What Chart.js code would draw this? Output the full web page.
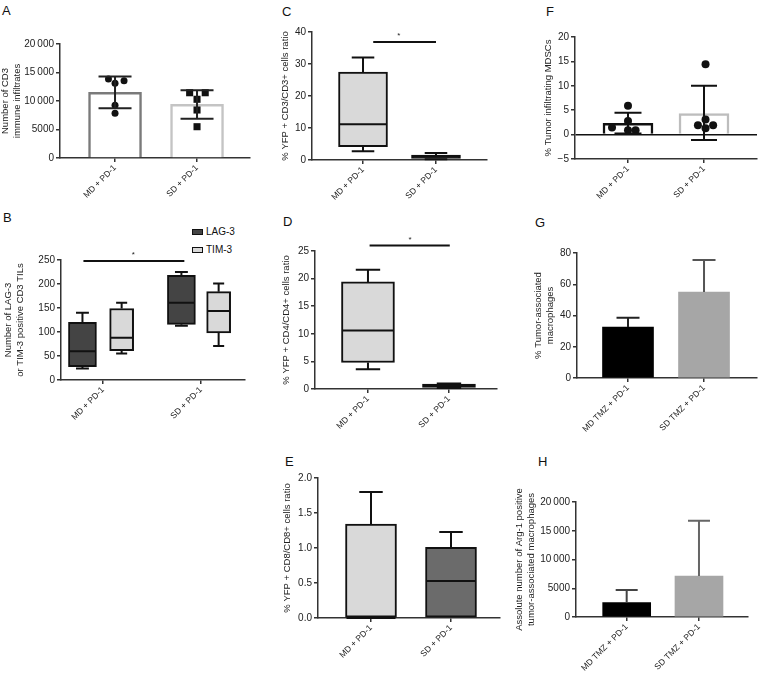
<!DOCTYPE html>
<html>
<head>
<meta charset="utf-8">
<script src="https://cdn.jsdelivr.net/npm/chart.js@4.4.0/dist/chart.umd.min.js"></script>
<style>
  body { margin: 0; background: #fff; width: 760px; height: 673px; position: relative; overflow: hidden;
         font-family: "Liberation Sans", Arial, Helvetica, sans-serif; color: #111; }
  .letter { position: absolute; font-size: 13px; line-height: 13px; }
  .leg { position: absolute; font-size: 10px; line-height: 10px; display: flex; align-items: center; }
  .leg i { display: inline-block; width: 9px; height: 4px; border: 1px solid #111; margin-right: 3px; }
</style>
</head>
<body>
<div class="letter" style="left:2px;top:4px">A</div>
<div class="letter" style="left:3px;top:211px">B</div>
<div class="letter" style="left:282px;top:5px">C</div>
<div class="letter" style="left:283px;top:215px">D</div>
<div class="letter" style="left:285px;top:455px">E</div>
<div class="letter" style="left:546px;top:5px">F</div>
<div class="letter" style="left:535px;top:216px">G</div>
<div class="letter" style="left:538px;top:455px">H</div>
<div class="leg" style="left:192px;top:227px"><i style="background:#444"></i>LAG-3</div>
<div class="leg" style="left:192px;top:245px"><i style="background:#d9d9d9"></i>TIM-3</div>
<script>
// ---- data ----
const groups = ['MD + PD-1', 'SD + PD-1'];
const groupsTmz = ['MD TMZ + PD-1', 'SD TMZ + PD-1'];

// A: mean, sd and individual mice
const aMean = [11500, 9400];
const aSd = [2780, 2500];
const aPtsMD = [[-0.08, 13860], [0.11, 13560], [0, 13100], [0, 9240], [0, 7840]];
const aPtsSD = [[-0.09, 11450], [0.1, 11450], [0, 10300], [0, 8420], [0, 5490]];

// box stats: min, q1, median, q3, max
const bLagMD = [24, 28, 60, 120, 140];
const bLagSD = [113, 116, 161, 218, 225];
const bTimMD = [55, 61, 88, 149, 161];
const bTimSD = [71, 98, 144, 184, 201];

const cMD = [2.7, 4.2, 11.2, 27.5, 32];
const cSD = [0.2, 0.5, 1.0, 1.5, 2.2];

const dMD = [3.6, 4.8, 10.6, 19.4, 21.6];
const dSD = [0.2, 0.3, 0.6, 0.9, 1.0];

const eMD = [0, 0, 0, 1.34, 1.8];
const eSD = [0, 0, 0.53, 1.01, 1.23];

// F: mean, error range, individual mice
const fMean = [2.3, 4.3];
const fErrLo = [0.2, -1.1];
const fErrHi = [4.5, 10.0];
const fPtsMD = [[0, 5.9], [0, 2.8], [-0.21, 1.45], [0, 0.9], [0.1, 0.9]];
const fPtsSD = [[0.02, 14.4], [0.02, 3.1], [-0.08, 1.9], [0.02, 1.3], [0.12, 1.9]];

const gMean = [32.6, 55];
const gErrHi = [38.6, 75.5];

const hMean = [2490, 7130];
const hErrHi = [4700, 16750];

// ---- helpers ----
const AXIS = '#333';
Chart.defaults.font.family = '"Liberation Sans", Arial, Helvetica, sans-serif';
Chart.defaults.color = '#222';
Chart.defaults.animation = false;

function makeCanvas(a) {
  const left = a.l - a.yW, top = a.t - a.pt;
  const w = a.r - left + a.pr, h = a.b - top + a.xH;
  const div = document.createElement('div');
  div.style.cssText = `position:absolute;left:${left}px;top:${top}px;width:${w}px;height:${h}px`;
  const cv = document.createElement('canvas');
  cv.width = w; cv.height = h;
  cv.style.width = w + 'px'; cv.style.height = h + 'px';
  div.appendChild(cv);
  document.body.appendChild(div);
  return cv;
}

function fmt(v) {
  if (v < 0) return '\u2212' + Math.abs(v);
  if (v >= 10000) return String(v).replace(/(\d+)(\d{3})$/, '$1\u2009$2');
  return String(v);
}

function xScale(a, min, max, labels) {
  return {
    type: 'linear', min, max, bounds: 'data', offset: false,
    afterBuildTicks: s => { s.ticks = [{ value: 0 }, { value: 1 }]; },
    afterFit: s => { s.height = a.xH; },
    ticks: { callback: v => labels[v], minRotation: 45, maxRotation: 45, autoSkip: false,
             font: { size: 8.5 }, padding: 1 },
    grid: { offset: false, drawOnChartArea: false, tickLength: 4, color: AXIS, lineWidth: 1.5 },
    border: { color: AXIS, width: 1.5 }
  };
}

function yScale(a, min, max, step, title, extra) {
  return Object.assign({
    type: 'linear', min, max, bounds: 'data',
    afterFit: s => { s.width = a.yW; },
    ticks: { stepSize: step, callback: v => fmt(v), font: { size: 10 }, padding: 2 },
    grid: { drawOnChartArea: false, tickLength: 4, color: AXIS, lineWidth: 1.5 },
    border: { color: AXIS, width: 1.5 },
    title: { display: true, text: title, font: { size: 9.5 }, padding: { top: 0, bottom: 2 } }
  }, extra || {});
}

// whiskers, medians, error bars and significance lines on top of the library's bars
function overlay(spec) {
  return {
    id: 'overlay',
    afterDatasetsDraw(chart) {
      const { ctx, scales: { x, y } } = chart;
      ctx.save();
      ctx.lineWidth = 2;
      (spec.boxes || []).forEach(b => {
        const cx = x.getPixelForValue(b.x);
        const [mn, q1, md, q3, mx] = b.s.map(v => y.getPixelForValue(v));
        const hw = b.w / 2 - 1, cw = b.w * 0.23;
        ctx.strokeStyle = '#111';
        ctx.beginPath();
        if (mx < q3 - 0.5) { ctx.moveTo(cx, q3); ctx.lineTo(cx, mx); ctx.moveTo(cx - cw, mx); ctx.lineTo(cx + cw, mx); }
        if (mn > q1 + 0.5) { ctx.moveTo(cx, q1); ctx.lineTo(cx, mn); ctx.moveTo(cx - cw, mn); ctx.lineTo(cx + cw, mn); }
        ctx.moveTo(cx - hw, md); ctx.lineTo(cx + hw, md);
        ctx.stroke();
      });
      (spec.errors || []).forEach(e => {
        const cx = x.getPixelForValue(e.x);
        const hi = y.getPixelForValue(e.hi);
        const lo = y.getPixelForValue(e.lo === null ? e.y : e.lo);
        ctx.strokeStyle = e.color;
        ctx.beginPath();
        ctx.moveTo(cx, lo); ctx.lineTo(cx, hi);
        ctx.moveTo(cx - e.cap / 2, hi); ctx.lineTo(cx + e.cap / 2, hi);
        if (e.lo !== null) { ctx.moveTo(cx - e.cap / 2, lo); ctx.lineTo(cx + e.cap / 2, lo); }
        ctx.stroke();
      });
      if (spec.sig) {
        const s = spec.sig;
        const py = y.getPixelForValue(s.y);
        ctx.strokeStyle = '#111';
        ctx.beginPath();
        ctx.moveTo(x.getPixelForValue(s.x1), py); ctx.lineTo(x.getPixelForValue(s.x2), py);
        ctx.stroke();
        ctx.fillStyle = '#222';
        ctx.font = '8px "Liberation Sans", Arial, sans-serif';
        ctx.textAlign = 'center';
        ctx.textBaseline = 'bottom';
        ctx.fillText('*', x.getPixelForValue(s.sx), py - 2);
      }
      ctx.restore();
    }
  };
}

function baseOptions(xs, ys) {
  return {
    responsive: false, devicePixelRatio: 1,
    layout: { padding: { top: xs.a.pt, right: xs.a.pr, left: 0, bottom: 0 }, autoPadding: false },
    plugins: { legend: { display: false }, tooltip: { enabled: false } },
    scales: { x: xs.s, y: ys }
  };
}

function boxData(xv, st) { return { x: xv, y: [st[1], st[3]] }; }

// ---- A ----
const areaA = { l: 60, t: 44, r: 250, b: 158, yW: 60, pt: 8, pr: 3, xH: 42 };
new Chart(makeCanvas(areaA), {
  type: 'bar',
  data: { datasets: [
    { type: 'scatter', order: 1, data: aPtsMD.map(p => ({ x: p[0], y: p[1] })),
      pointRadius: 3.5, pointStyle: 'circle', backgroundColor: '#111', borderWidth: 0 },
    { type: 'scatter', order: 1, data: aPtsSD.map(p => ({ x: 1 + p[0], y: p[1] })),
      pointRadius: 5, pointStyle: 'rect', backgroundColor: '#111', borderWidth: 0 },
    { order: 2, data: [{ x: 0, y: aMean[0] }, { x: 1, y: aMean[1] }], backgroundColor: '#fff',
      borderColor: ['#7a7a7a', '#c4c4c4'], borderWidth: 2.5, barThickness: 53 }
  ] },
  options: baseOptions({ a: areaA, s: xScale(areaA, -0.671, 1.646, groups) },
    yScale(areaA, 0, 20000, 5000, ['Number of CD3', 'immune infiltrates'])),
  plugins: [overlay({ errors: [
    { x: 0, y: aMean[0], lo: aMean[0] - aSd[0], hi: aMean[0] + aSd[0], cap: 33, color: '#222' },
    { x: 1, y: aMean[1], lo: aMean[1] - aSd[1], hi: aMean[1] + aSd[1], cap: 33, color: '#222' }
  ] })]
});

// ---- B ----
const areaB = { l: 61, t: 260, r: 245, b: 380, yW: 58, pt: 8, pr: 3, xH: 40 };
new Chart(makeCanvas(areaB), {
  type: 'bar',
  data: { datasets: [
    { label: 'LAG-3', data: [boxData(-0.21, bLagMD), boxData(0.8, bLagSD)], backgroundColor: '#444',
      borderColor: '#111', borderWidth: 2, borderSkipped: false, barThickness: 28, grouped: false },
    { label: 'TIM-3', data: [boxData(0.19, bTimMD), boxData(1.18, bTimSD)], backgroundColor: '#d9d9d9',
      borderColor: '#111', borderWidth: 2, borderSkipped: false, barThickness: 24, grouped: false }
  ] },
  options: baseOptions({ a: areaB, s: xScale(areaB, -0.429, 1.449, groups) },
    yScale(areaB, 0, 250, 50, ['Number of LAG-3', 'or TIM-3 positive CD3 TILs'])),
  plugins: [overlay({
    boxes: [{ x: -0.21, s: bLagMD, w: 28 }, { x: 0.8, s: bLagSD, w: 28 },
            { x: 0.19, s: bTimMD, w: 24 }, { x: 1.18, s: bTimSD, w: 24 }],
    sig: { x1: -0.2, x2: 0.83, y: 248, sx: 0.31 }
  })]
});

// ---- C ----
const areaC = { l: 312, t: 32, r: 487, b: 160, yW: 32, pt: 8, pr: 3, xH: 45 };
new Chart(makeCanvas(areaC), {
  type: 'bar',
  data: { datasets: [
    { data: [boxData(0, cMD), boxData(1, cSD)], backgroundColor: ['#d9d9d9', '#222'],
      borderColor: '#111', borderWidth: 2, borderSkipped: false, barThickness: 49 }
  ] },
  options: baseOptions({ a: areaC, s: xScale(areaC, -0.699, 1.699, groups) },
    yScale(areaC, 0, 40, 10, '% YFP + CD3/CD3+ cells ratio')),
  plugins: [overlay({
    boxes: [{ x: 0, s: cMD, w: 49 }, { x: 1, s: cSD, w: 49 }],
    sig: { x1: 0.14, x2: 1.0, y: 36.9, sx: 0.49 }
  })]
});

// ---- D ----
const areaD = { l: 315, t: 251, r: 497, b: 389, yW: 34, pt: 16, pr: 3, xH: 45 };
new Chart(makeCanvas(areaD), {
  type: 'bar',
  data: { datasets: [
    { data: [boxData(0, dMD), boxData(1, dSD)], backgroundColor: ['#d9d9d9', '#222'],
      borderColor: '#111', borderWidth: 2, borderSkipped: false, barThickness: 53 }
  ] },
  options: baseOptions({ a: areaD, s: xScale(areaD, -0.654, 1.593, groups) },
    yScale(areaD, 0, 25, 5, '% YFP + CD4/CD4+ cells ratio')),
  plugins: [overlay({
    boxes: [{ x: 0, s: dMD, w: 53 }, { x: 1, s: dSD, w: 53 }],
    sig: { x1: 0.02, x2: 1.01, y: 26, sx: 0.52 }
  })]
});

// ---- E ----
const areaE = { l: 318, t: 478, r: 500, b: 618, yW: 36, pt: 8, pr: 3, xH: 48 };
new Chart(makeCanvas(areaE), {
  type: 'bar',
  data: { datasets: [
    { data: [boxData(0, eMD), boxData(1, eSD)], backgroundColor: ['#d9d9d9', '#6b6b6b'],
      borderColor: '#111', borderWidth: 2, borderSkipped: false, barThickness: 51 }
  ] },
  options: baseOptions({ a: areaE, s: xScale(areaE, -0.6625, 1.6125, groups) },
    yScale(areaE, 0, 2, 0.5, '% YFP + CD8/CD8+ cells ratio',
      { ticks: { stepSize: 0.5, callback: v => v.toFixed(1), font: { size: 10 }, padding: 2 } })),
  plugins: [overlay({ boxes: [{ x: 0, s: eMD, w: 51 }, { x: 1, s: eSD, w: 51 }] })]
});

// ---- F ----
const areaF = { l: 575, t: 37, r: 757, b: 159, yW: 32, pt: 8, pr: 2, xH: 42 };
new Chart(makeCanvas(areaF), {
  type: 'bar',
  data: { datasets: [
    { type: 'scatter', order: 1, data: fPtsMD.map(p => ({ x: p[0], y: p[1] })),
      pointRadius: 4, backgroundColor: '#111', borderWidth: 0 },
    { type: 'scatter', order: 1, data: fPtsSD.map(p => ({ x: 1 + p[0], y: p[1] })),
      pointRadius: 4, backgroundColor: '#111', borderWidth: 0 },
    { order: 2, data: [{ x: 0, y: fMean[0] }, { x: 1, y: fMean[1] }], backgroundColor: '#fff',
      borderColor: ['#111', '#bdbdbd'], borderWidth: 2.5, barThickness: 50 }
  ] },
  options: baseOptions({ a: areaF, s: xScale(areaF, -0.697, 1.697, groups) },
    yScale(areaF, -5, 20, 5, '% Tumor infiltrating MDSCs', {
      grid: { drawOnChartArea: true, tickLength: 4, tickColor: AXIS, lineWidth: 1.5,
              color: c => (c.tick && c.tick.value === 0 ? '#111' : 'rgba(0,0,0,0)') }
    })),
  plugins: [overlay({ errors: [
    { x: 0, y: fMean[0], lo: fErrLo[0], hi: fErrHi[0], cap: 27, color: '#111' },
    { x: 1, y: fMean[1], lo: fErrLo[1], hi: fErrHi[1], cap: 26, color: '#111' }
  ] })]
});

// ---- G ----
const areaG = { l: 577, t: 253, r: 757, b: 378, yW: 44, pt: 8, pr: 2, xH: 62 };
new Chart(makeCanvas(areaG), {
  type: 'bar',
  data: { datasets: [
    { data: [{ x: 0, y: gMean[0] }, { x: 1, y: gMean[1] }], backgroundColor: ['#000', '#a6a6a6'],
      borderWidth: 0, barThickness: 51 }
  ] },
  options: baseOptions({ a: areaG, s: xScale(areaG, -0.671, 1.697, groupsTmz) },
    yScale(areaG, 0, 80, 20, ['% Tumor-associated', 'macrophages'])),
  plugins: [overlay({ errors: [
    { x: 0, y: gMean[0], lo: null, hi: gErrHi[0], cap: 23, color: '#222' },
    { x: 1, y: gMean[1], lo: null, hi: gErrHi[1], cap: 23, color: '#555' }
  ] })]
});

// ---- H ----
const areaH = { l: 576, t: 502, r: 748, b: 617, yW: 62, pt: 32, pr: 3, xH: 55 };
new Chart(makeCanvas(areaH), {
  type: 'bar',
  data: { datasets: [
    { data: [{ x: 0, y: hMean[0] }, { x: 1, y: hMean[1] }], backgroundColor: ['#000', '#a6a6a6'],
      borderWidth: 0, barThickness: 48 }
  ] },
  options: baseOptions({ a: areaH, s: xScale(areaH, -0.701, 1.678, groupsTmz) },
    yScale(areaH, 0, 20000, 5000, ['Assolute number of Arg-1 positive', 'tumor-associated macrophages'])),
  plugins: [overlay({ errors: [
    { x: 0, y: hMean[0], lo: null, hi: hErrHi[0], cap: 22, color: '#444' },
    { x: 1, y: hMean[1], lo: null, hi: hErrHi[1], cap: 22, color: '#666' }
  ] })]
});
</script>
</body>
</html>
